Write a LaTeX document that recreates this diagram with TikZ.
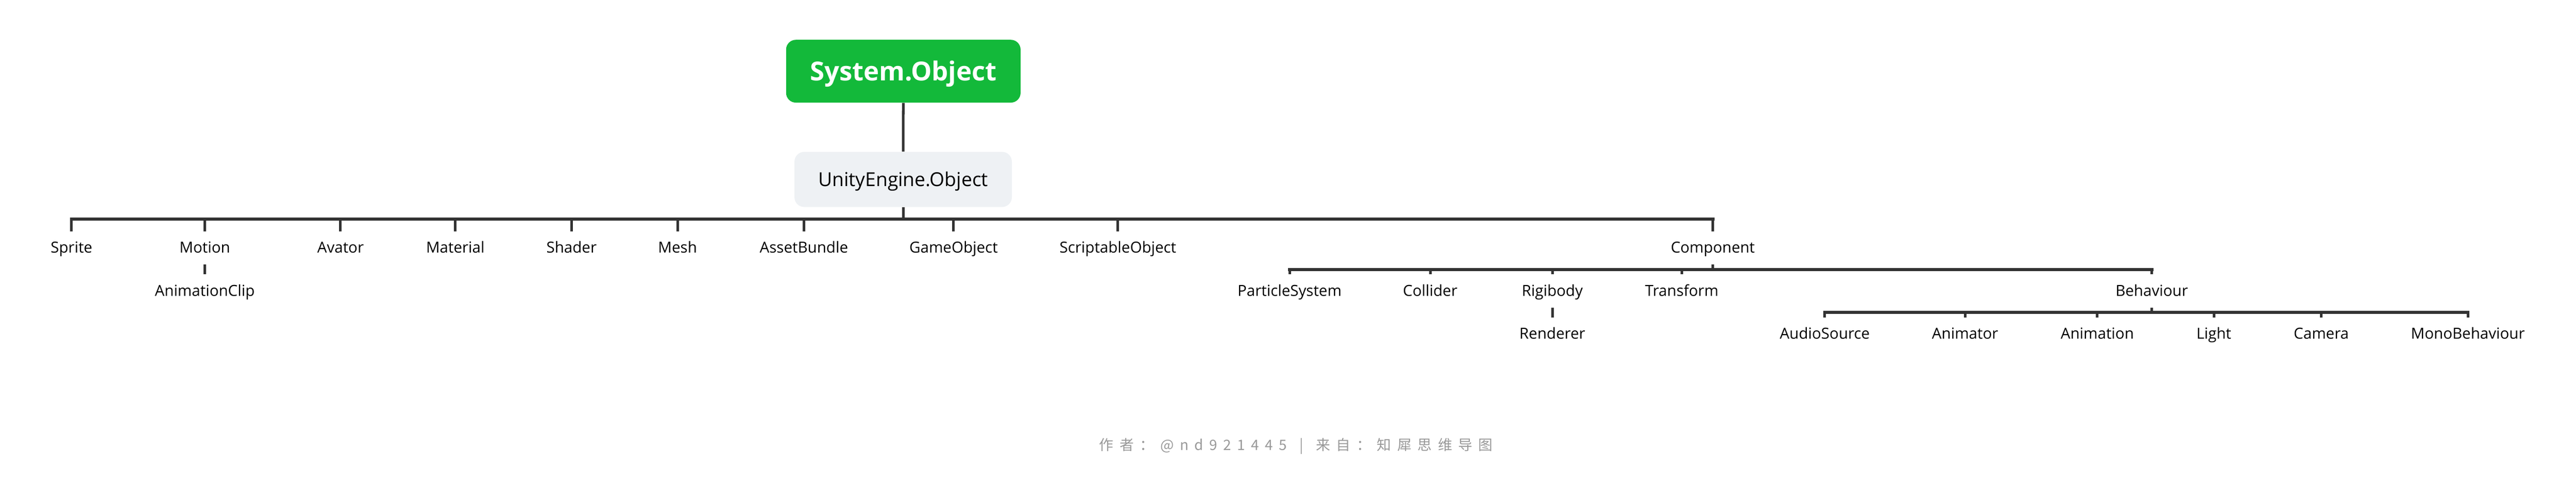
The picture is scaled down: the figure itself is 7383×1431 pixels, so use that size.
\documentclass[tikz,border=0pt]{standalone}
\usepackage{fontspec}
\setmainfont{Open Sans}
\newfontfamily\cjkfont{Noto Sans CJK SC}
\definecolor{linec}{HTML}{333333}
\definecolor{rootgreen}{HTML}{13B93A}
\definecolor{boxgray}{HTML}{EEF1F4}
\definecolor{footgray}{HTML}{999999}
\begin{document}
\begin{tikzpicture}[x=0.25pt,y=-0.25pt,
  leaf/.style={inner sep=0pt, anchor=base, text height=15.25pt, text depth=8pt,
               font=\fontsize{10.9}{13}\selectfont, text=black},
  rootbox/.style={fill=rootgreen, rounded corners=7pt, inner sep=0pt,
               minimum width=168pt, minimum height=45pt, text height=13.75pt, text depth=0pt,
               text=white, font=\fontsize{18.75}{22}\selectfont\bfseries},
  subbox/.style={fill=boxgray, rounded corners=7pt, inner sep=0pt,
               minimum width=155.75pt, minimum height=39.5pt, text height=10.25pt, text depth=0pt,
               text=black, font=\fontsize{13.75}{16}\selectfont},
  bus/.style={draw=linec, line width=2.25pt, line cap=rect},
  tick/.style={draw=linec, line width=1.85pt},
  footer/.style={inner sep=0pt, anchor=base west, text=footgray,
               font=\cjkfont\fontsize{10.25}{12}\selectfont\addfontfeature{LetterSpace=42}}
]
\useasboundingbox (0,0) rectangle (7383,1431);

% main boxes
\node[rootbox] (sys) at (2589,204) {System.Object};
\node[subbox] (uobj) at (2588.5,514) {UnityEngine.Object};

% bus levels
\coordinate (b1) at (0,627);
\coordinate (b2) at (0,772);
\coordinate (b3) at (0,895);

% level 1
\node[leaf] (sprite) at (205,725) {Sprite};
\node[leaf] (motion) at (587,725) {Motion};
\node[leaf] (avator) at (976,725) {Avator};
\node[leaf] (material) at (1305,725) {Material};
\node[leaf] (shader) at (1638,725) {Shader};
\node[leaf] (mesh) at (1942,725) {Mesh};
\node[leaf] (assetbundle) at (2304,725) {AssetBundle};
\node[leaf] (gameobject) at (2733,725) {GameObject};
\node[leaf] (scriptable) at (3204,725) {ScriptableObject};
\node[leaf] (component) at (4909,725) {Component};

% level 2
\node[leaf] (aclip) at (587,848) {AnimationClip};
\node[leaf] (particle) at (3696,848) {ParticleSystem};
\node[leaf] (collider) at (4099,848) {Collider};
\node[leaf] (rigibody) at (4449,848) {Rigibody};
\node[leaf] (transform) at (4820,848) {Transform};
\node[leaf] (behaviour) at (6167,848) {Behaviour};

% level 3
\node[leaf] (renderer) at (4449,971) {Renderer};
\node[leaf] (audiosource) at (5230,971) {AudioSource};
\node[leaf] (animator) at (5632,971) {Animator};
\node[leaf] (animation) at (6011,971) {Animation};
\node[leaf] (light) at (6345,971) {Light};
\node[leaf] (camera) at (6653,971) {Camera};
\node[leaf] (mono) at (7073,971) {MonoBehaviour};

% connectors
\draw[tick] (sys) -- (uobj);
\draw[tick] (uobj.south) -- (uobj.south |- b1);
\draw[bus] (sprite.north |- b1) -- (component.north |- b1);
\foreach \c in {sprite,motion,avator,material,shader,mesh,assetbundle,gameobject,scriptable,component}
  \draw[tick] (\c.north |- b1) -- (\c.north);

\draw[tick] (motion) -- (aclip);

\draw[tick] (component.south) -- (component.south |- b2);
\draw[bus] (particle.north |- b2) -- (behaviour.north |- b2);
\foreach \c in {particle,collider,rigibody,transform,behaviour}
  \draw[tick] (\c.north |- b2) -- (\c.north);

\draw[tick] (rigibody) -- (renderer);

\draw[tick] (behaviour.south) -- (behaviour.south |- b3);
\draw[bus] (audiosource.north |- b3) -- (mono.north |- b3);
\foreach \c in {audiosource,animator,animation,light,camera,mono}
  \draw[tick] (\c.north |- b3) -- (\c.north);

% footer
\node[footer] (foot) at (3150,1290) {作者：@nd921445\hspace*{9pt}|\hspace*{9pt}来自：知犀思维导图};
\end{tikzpicture}
\end{document}
